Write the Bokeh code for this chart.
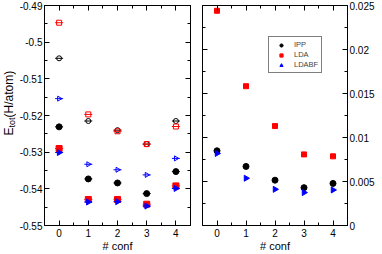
import math
from bokeh.plotting import figure
from bokeh.layouts import row, column
from bokeh.models import (LinearAxis, FixedTicker, CustomJSTickFormatter, Range1d,
                          Label, Legend, LegendItem)
from bokeh.embed import file_html
from bokeh.resources import INLINE

# ---------------- data ----------------
confs = [0, 1, 2, 3, 4]

# left panel: total energy (H/atom); open = first set, filled = second set
ipp_open = [-0.5044, -0.5215, -0.5240, -0.5278, -0.5215]
lda_open = [-0.4947, -0.5197, -0.5243, -0.5278, -0.5230]
ldabf_open = [-0.5154, -0.5333, -0.5348, -0.5362, -0.5317]
ipp_fill = [-0.5231, -0.5373, -0.5384, -0.5413, -0.5353]
lda_fill = [-0.5290, -0.5429, -0.5429, -0.5442, -0.5392]
ldabf_fill = [-0.5301, -0.5436, -0.5435, -0.5447, -0.5399]

# right panel
ipp_r = [0.00849, 0.00671, 0.00515, 0.00430, 0.00478]
lda_r = [0.0244, 0.01583, 0.0113, 0.00808, 0.00786]
ldabf_r = [0.00819, 0.00537, 0.00411, 0.00374, 0.00404]

x_ticks = [0, 1, 2, 3, 4]
left_y_ticks = [-0.55, -0.54, -0.53, -0.52, -0.51, -0.5, -0.49]
right_y_ticks = [0, 0.005, 0.01, 0.015, 0.02, 0.025]
series_names = ["IPP", "LDA", "LDABF"]
x_title = "# conf"

FONT = "Liberation Sans"
BLACK, RED, BLUE = "black", "red", "blue"
H = 239      # height of the plot row
HS = 12      # height of the x-title strip
W0, W1, W2 = 16, 180, 182
B1L, B1R, B2L, B2R = 28, 6, 6, 31


def mids(t):
    return [(a + b) / 2 for a, b in zip(t[:-1], t[1:])]


def make_axis(ticks, show_labels, font_size="10px"):
    ax = LinearAxis(ticker=FixedTicker(ticks=ticks, minor_ticks=mids(ticks)))
    ax.formatter = CustomJSTickFormatter(code="return tick.toString();")
    ax.major_tick_in = 5
    ax.major_tick_out = 0
    ax.minor_tick_in = 3
    ax.minor_tick_out = 0
    ax.axis_line_color = BLACK
    ax.major_tick_line_color = BLACK
    ax.minor_tick_line_color = BLACK
    ax.major_label_text_font = FONT
    ax.major_label_standoff = 2
    if show_labels:
        ax.major_label_text_font_size = font_size
        ax.major_label_text_color = BLACK
    else:
        ax.major_label_text_font_size = "1px"
        ax.major_label_text_color = None
        ax.major_label_standoff = 0
    return ax


def blank_fig(w, h):
    p = figure(width=w, height=h, x_range=Range1d(0, 1), y_range=Range1d(0, 1),
               output_backend="svg", toolbar_location=None,
               x_axis_location=None, y_axis_location=None,
               min_border_left=0, min_border_right=0, min_border_top=0, min_border_bottom=0)
    p.outline_line_color = None
    p.xgrid.grid_line_color = None
    p.ygrid.grid_line_color = None
    return p


def base_fig(width, yr, bl, br):
    p = figure(width=width, height=H, x_range=Range1d(-0.5, 4.5), y_range=yr,
               output_backend="svg", toolbar_location=None,
               x_axis_location=None, y_axis_location=None,
               min_border_left=bl, min_border_right=br,
               min_border_top=5, min_border_bottom=0)
    p.outline_line_color = BLACK
    p.xgrid.grid_line_color = None
    p.ygrid.grid_line_color = None
    p.background_fill_color = "white"
    bottom = make_axis(x_ticks, True)
    bottom.major_label_standoff = 3
    p.add_layout(bottom, "below")
    p.add_layout(make_axis(x_ticks, False), "above")
    return p


# ---------------- y-axis title strip ----------------
p0 = blank_fig(W0, H)
lab_x = 8
lab_y0 = 90
p0.add_layout(Label(x=lab_x, y=lab_y0, x_units="screen", y_units="screen", text="E",
                    angle=math.pi / 2, text_font=FONT, text_font_size="12px",
                    text_align="left", text_baseline="middle", text_color=BLACK))
p0.add_layout(Label(x=lab_x + 3, y=lab_y0 + 8, x_units="screen", y_units="screen", text="tot",
                    angle=math.pi / 2, text_font=FONT, text_font_size="9px",
                    text_align="left", text_baseline="middle", text_color=BLACK))
p0.add_layout(Label(x=lab_x, y=lab_y0 + 18, x_units="screen", y_units="screen", text="(H/atom)",
                    angle=math.pi / 2, text_font=FONT, text_font_size="12px",
                    text_align="left", text_baseline="middle", text_color=BLACK))

# ---------------- left panel ----------------
p1 = base_fig(W1, Range1d(-0.55, -0.49), B1L, B1R)
p1.add_layout(make_axis(left_y_ticks, True), "left")
p1.add_layout(make_axis(left_y_ticks, False), "right")

for ys, col, mk, ang in [(ipp_open, BLACK, "circle", 0), (lda_open, RED, "square", 0),
                         (ldabf_open, BLUE, "triangle", -math.pi / 2)]:
    p1.scatter(confs, ys, marker=mk, size=5, angle=ang, fill_color=None,
               line_color=col, line_width=1)
    p1.scatter(confs, ys, marker="dash", size=8, line_color=col, line_width=1)

for ys, col, mk, ang in [(ipp_fill, BLACK, "circle", 0), (lda_fill, RED, "square", 0),
                         (ldabf_fill, BLUE, "triangle", -math.pi / 2)]:
    p1.scatter(confs, ys, marker="dash", size=8, line_color=col, line_width=1)
    p1.scatter(confs, ys, marker=mk, size=6, angle=ang, fill_color=col,
               line_color=col)

# ---------------- right panel ----------------
p2 = base_fig(W2, Range1d(0, 0.025), B2L, B2R)
p2.add_layout(make_axis(right_y_ticks, False), "left")
p2.add_layout(make_axis(right_y_ticks, True), "right")

r_ipp = p2.scatter(confs, ipp_r, marker="circle", size=6, fill_color=BLACK, line_color=BLACK)
r_lda = p2.scatter(confs, lda_r, marker="square", size=5, fill_color=RED, line_color=RED)
r_ldabf = p2.scatter(confs, ldabf_r, marker="triangle", size=6, angle=-math.pi / 2,
                     fill_color=BLUE, line_color=BLUE)

legend = Legend(items=[LegendItem(label=series_names[0], renderers=[r_ipp]),
                       LegendItem(label=series_names[1], renderers=[r_lda]),
                       LegendItem(label=series_names[2], renderers=[r_ldabf])],
                location=(66, 152))
legend.label_text_font = FONT
legend.label_text_font_size = "7.5px"
legend.glyph_width = 18
legend.glyph_height = 8
legend.label_height = 8
legend.spacing = 1
legend.padding = 3
legend.margin = 0
legend.label_standoff = 4
legend.border_line_color = BLACK
legend.border_line_width = 1
legend.background_fill_alpha = 1
p2.add_layout(legend)

# ---------------- x-title strip ----------------
ps = blank_fig(W0 + W1 + W2, HS)
f1w = W1 - B1L - B1R
f2w = W2 - B2L - B2R
for cx in (W0 + B1L + f1w / 2, W0 + W1 + B2L + f2w / 2):
    ps.add_layout(Label(x=cx, y=HS / 2, x_units="screen", y_units="screen", text=x_title,
                        text_font=FONT, text_font_size="11px", text_align="center",
                        text_baseline="middle", text_color=BLACK))

layout = column(row(p0, p1, p2), ps, spacing=0)
open("out.html", "w").write(file_html(layout, INLINE))
